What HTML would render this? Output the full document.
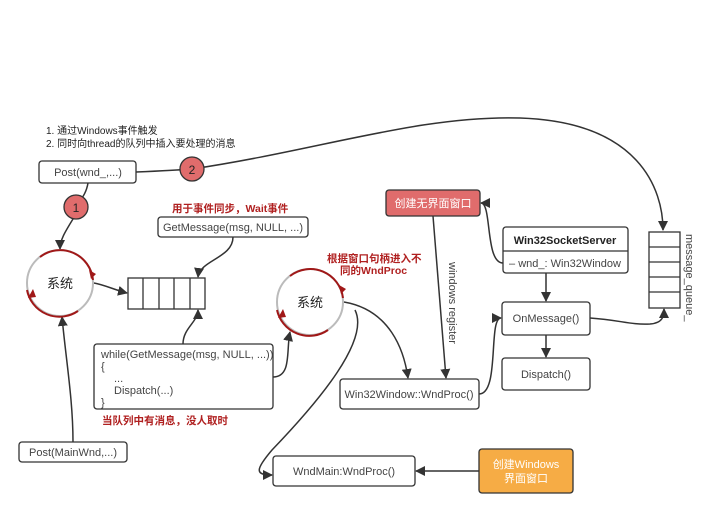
<!DOCTYPE html>
<html><head><meta charset="utf-8"><style>
html,body{margin:0;padding:0;background:#fff;}
svg{display:block;font-family:"Liberation Sans","Noto Sans CJK SC",sans-serif;}
</style></head><body>
<svg width="720" height="513" viewBox="0 0 720 513" xmlns="http://www.w3.org/2000/svg">
<defs>
<marker id="a" markerWidth="10" markerHeight="10" refX="9" refY="5" orient="auto" markerUnits="userSpaceOnUse"><path d="M0,0 L10,5 L0,10 z" fill="#333"/></marker>
</defs>
<g fill="none" stroke="#333" stroke-width="1.5">
<!-- top curve -->
<path d="M136,172 C160,171 180,170 192,169 C320,150 420,115 520,118 C640,122 663,190 663,230" marker-end="url(#a)"/>
<!-- Post -> circle1 -> system -->
<path d="M88,183 C86,195 80,200 76,207"/>
<path d="M73,219 C65,232 60,240 60,249" marker-end="url(#a)"/>
<!-- system -> queue -->
<path d="M94,283 C105,285 115,290 127,293" marker-end="url(#a)"/>
<!-- GetMessage -> queue -->
<path d="M233,237 C233,258 200,260 198,277" marker-end="url(#a)"/>
<!-- while -> queue -->
<path d="M183,344 C183,328 198,322 198,310" marker-end="url(#a)"/>
<!-- while -> system2 -->
<path d="M273,377 C292,377 286,350 290,332" marker-end="url(#a)"/>
<!-- PostMainWnd -> system1 -->
<path d="M73,442 C73,400 66,360 62,317" marker-end="url(#a)"/>
<!-- system2 -> Win32Window -->
<path d="M344,302 C390,310 404,350 408,378" marker-end="url(#a)"/>
<!-- system2 -> WndMain -->
<path d="M355,310 C370,340 320,400 272,450 C255,470 255,475 272,475" marker-end="url(#a)"/>
<!-- red box -> Win32Window -->
<path d="M433,216 L446,378" marker-end="url(#a)"/>
<!-- Win32Window -> OnMessage -->
<path d="M479,394 C500,394 488,318 501,318" marker-end="url(#a)"/>
<!-- socket server -> red box -->
<path d="M503,263 C485,263 492,203 481,203" marker-end="url(#a)"/>
<!-- socket -> OnMessage -->
<path d="M546,273 L546,301" marker-end="url(#a)"/>
<path d="M546,335 L546,357" marker-end="url(#a)"/>
<!-- OnMessage -> queue -->
<path d="M590,318 C620,320 630,325 650,324 C663,323 664,316 664,309" marker-end="url(#a)"/>
<!-- orange -> WndMain -->
<path d="M479,471 L416,471" marker-end="url(#a)"/>
</g>
<!-- boxes -->
<g stroke="#333" stroke-width="1.3" fill="#fff">
<rect x="39" y="161" width="97" height="22" rx="3"/>
<rect x="158" y="217" width="150" height="20" rx="3"/>
<rect x="94" y="344" width="179" height="65" rx="3"/>
<rect x="19" y="442" width="108" height="20" rx="3"/>
<rect x="340" y="379" width="139" height="30" rx="3"/>
<rect x="503" y="227" width="125" height="46" rx="3"/>
<line x1="503" y1="251" x2="628" y2="251"/>
<rect x="502" y="302" width="88" height="33" rx="3"/>
<rect x="502" y="358" width="88" height="32" rx="3"/>
<rect x="273" y="456" width="142" height="30" rx="3"/>
<rect x="386" y="190" width="94" height="26" rx="3" fill="#e06c6c"/>
<rect x="479" y="449" width="94" height="44" rx="3" fill="#f6ac45"/>
<rect x="128" y="278" width="77" height="31"/>
<line x1="143" y1="278" x2="143" y2="309"/><line x1="159" y1="278" x2="159" y2="309"/><line x1="174" y1="278" x2="174" y2="309"/><line x1="190" y1="278" x2="190" y2="309"/>
<rect x="649" y="232" width="31" height="76"/>
<line x1="649" y1="247" x2="680" y2="247"/><line x1="649" y1="262" x2="680" y2="262"/><line x1="649" y1="277" x2="680" y2="277"/><line x1="649" y1="292" x2="680" y2="292"/>
</g>
<!-- numbered circles -->
<circle cx="76" cy="207" r="12" fill="#e06c6c" stroke="#333" stroke-width="1.3"/>
<circle cx="192" cy="169" r="12" fill="#e06c6c" stroke="#333" stroke-width="1.3"/>
<!-- system circles -->
<g fill="none" stroke-width="2">
<circle cx="60" cy="283" r="33" stroke="#bbb"/>
<path d="M40,257 A33,33 0 0 1 93,280" stroke="#a01818"/>
<path d="M27,290 A33,33 0 0 0 78,311" stroke="#a01818"/>
<circle cx="310" cy="302" r="33" stroke="#bbb"/>
<path d="M290,276 A33,33 0 0 1 343,298" stroke="#a01818"/>
<path d="M277,310 A33,33 0 0 0 328,330" stroke="#a01818"/>
</g>
<g fill="#a01818">
<path d="M89,270 L96,274 L91,279 z"/><path d="M28,298 L33,289 L36,297 z"/>
<path d="M339,285 L346,289 L341,294 z"/><path d="M278,318 L283,309 L286,317 z"/>
</g>
<!-- text -->
<g font-size="11" fill="#444" text-anchor="middle">
<text x="88" y="176">Post(wnd_,...)</text>
<text x="233" y="231">GetMessage(msg, NULL, ...)</text>
<text x="73" y="456">Post(MainWnd,...)</text>
<text x="409" y="398">Win32Window::WndProc()</text>
<text x="546" y="322">OnMessage()</text>
<text x="546" y="378">Dispatch()</text>
<text x="344" y="475">WndMain:WndProc()</text>
<text x="565" y="267">– wnd_: Win32Window</text>
<text x="565" y="244" font-weight="bold" fill="#222">Win32SocketServer</text>
<text x="433" y="207" fill="#fff">创建无界面窗口</text>
<text x="526" y="468" fill="#fff">创建Windows</text>
<text x="526" y="482" fill="#fff">界面窗口</text>
<text x="60" y="288" font-size="13" fill="#222">系统</text>
<text x="310" y="307" font-size="13" fill="#222">系统</text>
<text x="76" y="212" font-size="12" fill="#222">1</text>
<text x="192" y="174" font-size="12" fill="#222">2</text>
</g>
<g font-size="11" fill="#444">
<text x="101" y="358">while(GetMessage(msg, NULL, ...))</text>
<text x="101" y="370">{</text>
<text x="114" y="382">...</text>
<text x="114" y="394">Dispatch(...)</text>
<text x="101" y="406">}</text>
</g>
<g font-size="10" fill="#222">
<text x="46" y="134">1. 通过Windows事件触发</text>
<text x="46" y="147">2. 同时向thread的队列中插入要处理的消息</text>
</g>
<g font-size="10.5" fill="#b02020" font-weight="bold">
<text x="172" y="212">用于事件同步，Wait事件</text>
<text x="102" y="424">当队列中有消息，没人取时</text>
<text x="327" y="262">根据窗口句柄进入不</text>
<text x="340" y="274">同的WndProc</text>
</g>
<text x="0" y="0" font-size="11" fill="#444" transform="translate(449,262) rotate(90)">windows register</text>
<text x="0" y="0" font-size="11" fill="#444" transform="translate(686,234) rotate(90)">message_queue_</text>
</svg>
</body></html>
